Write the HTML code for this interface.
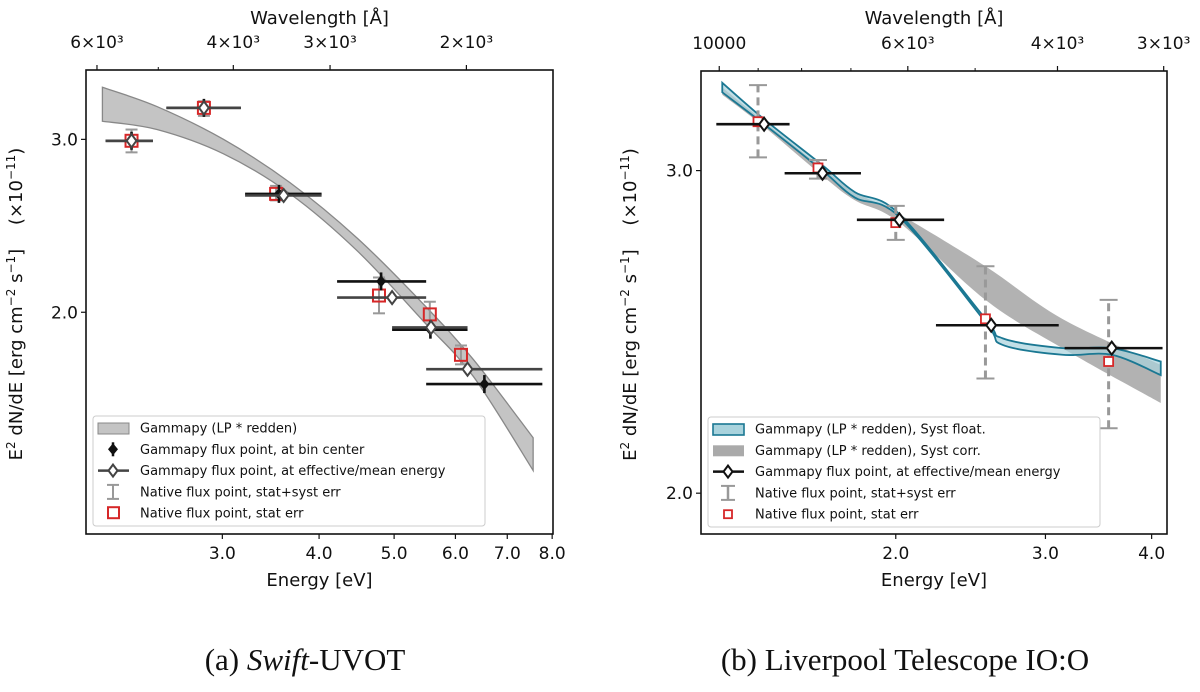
<!DOCTYPE html>
<html><head><meta charset="utf-8"><style>
body{margin:0;background:#fff;width:1200px;height:687px;overflow:hidden}
svg text{font-family:"DejaVu Sans","Liberation Sans",sans-serif;fill:#111}
</style></head><body>
<svg id="fig" width="1200" height="687" viewBox="0 0 1200 687" xmlns="http://www.w3.org/2000/svg">
<text x="305" y="670" text-anchor="middle" style="font-family:'Liberation Serif',serif;font-size:31px">(a) <tspan font-style="italic">Swift</tspan>-UVOT</text>
<text x="905" y="670" text-anchor="middle" style="font-family:'Liberation Serif',serif;font-size:31px">(b) Liverpool Telescope IO:O</text>
</svg>
<script>
// ---------- Panel A data (Swift-UVOT) ----------
const aBandE = [2.10, 2.47, 3.01, 3.67, 4.48, 5.45, 6.33, 7.56];
const aBandHi = [3.39, 3.24, 3.00, 2.71, 2.38, 2.04, 1.79, 1.49];
const aBandLo = [3.13, 3.07, 2.90, 2.64, 2.31, 1.96, 1.72, 1.38];
const aCenterE = [2.29, 2.84, 3.55, 4.81, 5.57, 6.54];
const aCenterF = [2.99, 3.23, 2.64, 2.15, 1.92, 1.69];
const aMeanE = [2.29, 2.84, 3.60, 4.97, 5.58, 6.22];
const aMeanF = [2.99, 3.23, 2.63, 2.07, 1.93, 1.75];
const aBinLo = [2.12, 2.54, 3.21, 4.22, 4.97, 5.50];
const aBinHi = [2.44, 3.17, 4.03, 5.50, 6.22, 7.77];
const aNatE = [2.29, 2.84, 3.52, 4.78, 5.56, 6.10];
const aNatF = [2.99, 3.23, 2.64, 2.08, 1.99, 1.81];
const aNatErrLo = [2.91, 3.17, 2.60, 1.995, 1.93, 1.77];
const aNatErrHi = [3.07, 3.28, 2.69, 2.17, 2.05, 1.85];
const aXTicks = [3, 4, 5, 6, 7, 8];
const aWlTicks = [6000, 4000, 3000, 2000];
const aWlLabels = ["6\u00d710\u00b3", "4\u00d710\u00b3", "3\u00d710\u00b3", "2\u00d710\u00b3"];
const aWlMinor = [5000];
const aYTicks = [3.0, 2.0];

// ---------- Panel B data (Liverpool) ----------
const bGrayE = [1.25, 1.40, 1.64, 1.79, 2.02, 2.55, 3.14, 4.10];
const bGrayHi = [3.33, 3.19, 3.01, 2.92, 2.84, 2.66, 2.49, 2.35];
const bGrayLo = [3.30, 3.17, 2.98, 2.89, 2.81, 2.55, 2.40, 2.24];
const bTealE = [1.25, 1.40, 1.64, 1.79, 2.02, 2.55, 2.67, 3.14, 3.59, 4.10];
const bTealHi = [3.35, 3.20, 3.02, 2.92, 2.84, 2.49, 2.43, 2.40, 2.40, 2.36];
const bTealLo = [3.31, 3.18, 3.00, 2.90, 2.83, 2.48, 2.41, 2.38, 2.38, 2.32];
const bMeanE = [1.40, 1.64, 2.02, 2.59, 3.59];
const bMeanF = [3.18, 2.99, 2.82, 2.47, 2.40];
const bBinLo = [1.23, 1.48, 1.80, 2.23, 3.16];
const bBinHi = [1.50, 1.82, 2.28, 3.11, 4.12];
const bNatE = [1.377, 1.62, 2.00, 2.55, 3.56];
const bNatF = [3.19, 3.01, 2.81, 2.49, 2.36];
const bSysLo = [3.05, 2.97, 2.75, 2.31, 2.17];
const bSysHi = [3.34, 3.04, 2.87, 2.66, 2.55];
const bXTicks = [2, 3, 4];
const bWlTicks = [10000, 6000, 4000, 3000];
const bWlLabels = ["10000", "6\u00d710\u00b3", "4\u00d710\u00b3", "3\u00d710\u00b3"];
const bWlMinor = [9000, 8000, 7000, 5000];
const bYTicks = [3.0, 2.0];

const NS = "http://www.w3.org/2000/svg";
const svg = document.getElementById('fig');
function mk(tag, attrs, parent) {
  const e = document.createElementNS(NS, tag);
  for (const k in attrs) e.setAttribute(k, attrs[k]);
  (parent || svg).appendChild(e);
  return e;
}
function makeAxes(L, R, T, B, xmin, xmax, ymin, ymax) {
  return {
    x: v => L + (Math.log(v) - Math.log(xmin)) / (Math.log(xmax) - Math.log(xmin)) * (R - L),
    y: v => B - (Math.log(v) - Math.log(ymin)) / (Math.log(ymax) - Math.log(ymin)) * (B - T),
    L, R, T, B
  };
}
function segs(pts) {
  let d = "";
  for (let i = 0; i < pts.length - 1; i++) {
    const p0 = pts[Math.max(0, i - 1)], p1 = pts[i], p2 = pts[i + 1], p3 = pts[Math.min(pts.length - 1, i + 2)];
    const c1 = [p1[0] + (p2[0] - p0[0]) / 6, p1[1] + (p2[1] - p0[1]) / 6];
    const c2 = [p2[0] - (p3[0] - p1[0]) / 6, p2[1] - (p3[1] - p1[1]) / 6];
    d += " C " + c1[0] + " " + c1[1] + " " + c2[0] + " " + c2[1] + " " + p2[0] + " " + p2[1];
  }
  return d;
}
function bandPath(ax, E, hi, lo) {
  const up = E.map((e, i) => [ax.x(e), ax.y(hi[i])]);
  const dn = E.map((e, i) => [ax.x(e), ax.y(lo[i])]).reverse();
  return "M " + up[0][0] + " " + up[0][1] + segs(up) + " L " + dn[0][0] + " " + dn[0][1] + segs(dn) + " Z";
}
function diamond(g, cx, cy, r, stroke) {
  return mk('path', {d: `M${cx},${cy-r} L${cx+r*0.75},${cy} L${cx},${cy+r} L${cx-r*0.75},${cy} Z`, fill: '#fff', stroke: stroke, 'stroke-width': 2}, g);
}
function frame(ax, xTicks, wlTicks, wlLabels, wlMinor, yTicks, ylabX, pfx) {
  const g = mk('g', {});
  
  
  mk('rect', {x: ax.L, y: ax.T, width: ax.R - ax.L, height: ax.B - ax.T, fill: 'none', stroke: '#111', 'stroke-width': 1.6}, g);
  xTicks.forEach(v => {
    const X = ax.x(v);
    mk('line', {x1: X, x2: X, y1: ax.B, y2: ax.B + 5, stroke: '#111', 'stroke-width': 1.2}, g);
    const t = mk('text', {x: X, y: ax.B + 25, 'text-anchor': 'middle', 'font-size': 17}, g);
    t.textContent = v.toFixed(1);
    
    
  });
  wlTicks.forEach((w, i) => {
    const X = ax.x(12398 / w);
    mk('line', {x1: X, x2: X, y1: ax.T, y2: ax.T - 5, stroke: '#111', 'stroke-width': 1.2}, g);
    const t = mk('text', {x: X, y: ax.T - 22, 'text-anchor': 'middle', 'font-size': 17}, g);
    t.textContent = wlLabels[i];
    
    
  });
  wlMinor.forEach(w => {
    const X = ax.x(12398 / w);
    mk('line', {x1: X, x2: X, y1: ax.T, y2: ax.T - 3, stroke: '#111', 'stroke-width': 1}, g);
  });
  yTicks.forEach(v => {
    const Y = ax.y(v);
    mk('line', {x1: ax.L, x2: ax.L - 5, y1: Y, y2: Y, stroke: '#111', 'stroke-width': 1.2}, g);
    const t = mk('text', {x: ax.L - 8, y: Y + 6, 'text-anchor': 'end', 'font-size': 17}, g);
    t.textContent = v.toFixed(1);
    
    
  });
  const cx = (ax.L + ax.R) / 2;
  const xl = mk('text', {x: cx, y: ax.B + 52, 'text-anchor': 'middle', 'font-size': 18}, g);
  xl.textContent = 'Energy [eV]';
  
  
  const tl = mk('text', {x: cx, y: 24, 'text-anchor': 'middle', 'font-size': 18}, g);
  tl.textContent = 'Wavelength [\u00c5]';
  
  
  const cy = (ax.T + ax.B) / 2 + 2;
  const yl = mk('text', {x: ylabX, y: cy, 'text-anchor': 'middle', 'font-size': 18, transform: `rotate(-90 ${ylabX} ${cy})`}, g);
  yl.innerHTML = 'E<tspan dy="-7" font-size="12">2</tspan><tspan dy="7"> dN/dE [erg cm</tspan><tspan dy="-7" font-size="12">\u22122</tspan><tspan dy="7"> s</tspan><tspan dy="-7" font-size="12">\u22121</tspan><tspan dy="7">]\u2003 (\u00d710</tspan><tspan dy="-7" font-size="12">\u221211</tspan><tspan dy="7">)</tspan>';
  
  
}
function legend(x, y, w, h, entries, pfx) {
  const g = mk('g', {});
  
  
  mk('rect', {x, y, width: w, height: h, rx: 3, fill: '#fff', 'fill-opacity': 0.85, stroke: '#ccc'}, g);
  entries.forEach((en, i) => {
    const ey = y + 12 + i * 21.3;
    en.draw(g, x + 5, ey);
    const t = mk('text', {x: x + 47, y: ey + 4.5, 'font-size': 13}, g);
    t.textContent = en.label;
    
    
  });
}

// ---------- Panel A ----------
const A = makeAxes(86, 553, 70, 534, 2.0, 8.02, 1.189, 3.53);
frame(A, aXTicks, aWlTicks, aWlLabels, aWlMinor, aYTicks, 22, 'panel-a');
const aBand = mk('path', {d: bandPath(A, aBandE, aBandHi, aBandLo), fill: '#c4c4c4', stroke: '#888', 'stroke-width': 1.3});


aNatE.forEach((e, i) => {
  const X = A.x(e);
  const g = mk('g', {});
  
  
  mk('line', {x1: X, x2: X, y1: A.y(aNatErrLo[i]), y2: A.y(aNatErrHi[i]), stroke: '#999', 'stroke-width': 2}, g);
  [aNatErrLo[i], aNatErrHi[i]].forEach(v => mk('line', {x1: X - 6, x2: X + 6, y1: A.y(v), y2: A.y(v), stroke: '#999', 'stroke-width': 2}, g));
  mk('rect', {x: X - 6, y: A.y(aNatF[i]) - 6, width: 12, height: 12, fill: 'none', stroke: '#d62728', 'stroke-width': 2}, g);
});
aCenterE.forEach((e, i) => {
  const g = mk('g', {});
  
  
  const Y = A.y(aCenterF[i]);
  mk('line', {x1: A.x(aBinLo[i]), x2: A.x(aBinHi[i]), y1: Y, y2: Y, stroke: '#111', 'stroke-width': 2.6}, g);
  mk('line', {x1: A.x(e), x2: A.x(e), y1: Y - 9, y2: Y + 9, stroke: '#111', 'stroke-width': 2.6}, g);
  const X = A.x(e);
  mk('path', {d: `M${X},${Y-6} L${X+5},${Y} L${X},${Y+6} L${X-5},${Y} Z`, fill: '#111'}, g);
});
aMeanE.forEach((e, i) => {
  const g = mk('g', {});
  
  
  const Y = A.y(aMeanF[i]);
  mk('line', {x1: A.x(aBinLo[i]), x2: A.x(aBinHi[i]), y1: Y, y2: Y, stroke: '#444', 'stroke-width': 2.6}, g);
  diamond(g, A.x(e), Y, 6.5, '#444');
});
legend(93, 416, 392, 110, [
  {label: 'Gammapy (LP * redden)', draw: (g, x, y) => mk('rect', {x: x, y: y - 5, width: 31, height: 11, fill: '#c4c4c4', stroke: '#888'}, g)},
  {label: 'Gammapy flux point, at bin center', draw: (g, x, y) => { mk('line', {x1: x + 15, x2: x + 15, y1: y - 7, y2: y + 7, stroke: '#111', 'stroke-width': 2.5}, g); mk('path', {d: `M${x+15},${y-6} L${x+20},${y} L${x+15},${y+6} L${x+10},${y} Z`, fill: '#111'}, g); }},
  {label: 'Gammapy flux point, at effective/mean energy', draw: (g, x, y) => { mk('line', {x1: x, x2: x + 31, y1: y, y2: y, stroke: '#444', 'stroke-width': 2.5}, g); diamond(g, x + 15, y, 6, '#444'); }},
  {label: 'Native flux point, stat+syst err', draw: (g, x, y) => { mk('line', {x1: x + 15, x2: x + 15, y1: y - 7, y2: y + 7, stroke: '#999', 'stroke-width': 2}, g); mk('line', {x1: x + 9, x2: x + 21, y1: y - 7, y2: y - 7, stroke: '#999', 'stroke-width': 2}, g); mk('line', {x1: x + 9, x2: x + 21, y1: y + 7, y2: y + 7, stroke: '#999', 'stroke-width': 2}, g); }},
  {label: 'Native flux point, stat err', draw: (g, x, y) => mk('rect', {x: x + 10, y: y - 6, width: 11, height: 11, fill: 'none', stroke: '#d62728', 'stroke-width': 2}, g)}
], 'panel-a');

// ---------- Panel B ----------
const B = makeAxes(701, 1167, 71, 534, 1.18, 4.17, 1.90, 3.40);
frame(B, bXTicks, bWlTicks, bWlLabels, bWlMinor, bYTicks, 636, 'panel-b');
const bGray = mk('path', {d: bandPath(B, bGrayE, bGrayHi, bGrayLo), fill: '#aaaaaa', 'fill-opacity': 0.9});


const bTeal = mk('path', {d: bandPath(B, bTealE, bTealHi, bTealLo), fill: '#a9d3dd', 'fill-opacity': 0.7, stroke: '#1b7893', 'stroke-width': 1.8});


bNatE.forEach((e, i) => {
  const X = B.x(e);
  const g = mk('g', {});
  
  
  mk('line', {x1: X, x2: X, y1: B.y(bSysLo[i]), y2: B.y(bSysHi[i]), stroke: '#999', 'stroke-width': 3, 'stroke-dasharray': '8,5'}, g);
  [bSysLo[i], bSysHi[i]].forEach(v => mk('line', {x1: X - 9, x2: X + 9, y1: B.y(v), y2: B.y(v), stroke: '#999', 'stroke-width': 2}, g));
  mk('rect', {x: X - 4.5, y: B.y(bNatF[i]) - 4.5, width: 9, height: 9, fill: '#fff', stroke: '#d62728', 'stroke-width': 1.8}, g);
});
bMeanE.forEach((e, i) => {
  const g = mk('g', {});
  
  
  const Y = B.y(bMeanF[i]);
  mk('line', {x1: B.x(bBinLo[i]), x2: B.x(bBinHi[i]), y1: Y, y2: Y, stroke: '#111', 'stroke-width': 2.6}, g);
  diamond(g, B.x(e), Y, 6.5, '#111');
});
legend(708, 417, 392, 110, [
  {label: 'Gammapy (LP * redden), Syst float.', draw: (g, x, y) => mk('rect', {x: x, y: y - 5, width: 31, height: 11, fill: '#a9d3dd', stroke: '#1b7893', 'stroke-width': 1.6}, g)},
  {label: 'Gammapy (LP * redden), Syst corr.', draw: (g, x, y) => mk('rect', {x: x, y: y - 5, width: 31, height: 11, fill: '#aaaaaa'}, g)},
  {label: 'Gammapy flux point, at effective/mean energy', draw: (g, x, y) => { mk('line', {x1: x, x2: x + 31, y1: y, y2: y, stroke: '#111', 'stroke-width': 2.5}, g); diamond(g, x + 15, y, 6, '#111'); }},
  {label: 'Native flux point, stat+syst err', draw: (g, x, y) => { mk('line', {x1: x + 15, x2: x + 15, y1: y - 7, y2: y + 7, stroke: '#999', 'stroke-width': 2.5}, g); mk('line', {x1: x + 8, x2: x + 22, y1: y - 7, y2: y - 7, stroke: '#999', 'stroke-width': 2}, g); mk('line', {x1: x + 8, x2: x + 22, y1: y + 7, y2: y + 7, stroke: '#999', 'stroke-width': 2}, g); }},
  {label: 'Native flux point, stat err', draw: (g, x, y) => mk('rect', {x: x + 11, y: y - 4, width: 8, height: 8, fill: '#fff', stroke: '#d62728', 'stroke-width': 1.8}, g)}
], 'panel-b');
</script>
</body></html>
